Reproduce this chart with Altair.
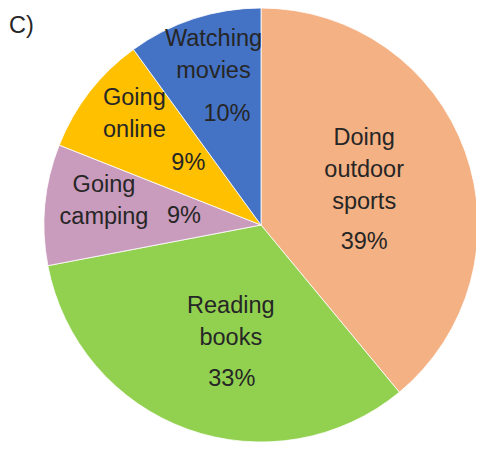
import altair as alt
import pandas as pd

# ---- data ----
categories = ["Doing outdoor sports", "Reading books", "Going camping", "Going online", "Watching movies"]
values = [39, 33, 9, 9, 10]
name_lines = ["Doing\noutdoor\nsports", "Reading\nbooks", "Going\ncamping", "Going\nonline", "Watching\nmovies"]
colors = ["#F4B183", "#92D050", "#C99BBC", "#FFC000", "#4472C4"]

# ---- label layout: anchor radius at slice mid-angle, then (dx, dy) of name's first line and of percentage ----
layout = {
    "Doing outdoor sports": (109, 0.6, -49.9, 0.6, 53.6),
    "Reading books": (121, 10.8, -33.2, 11.8, 39.8),
    "Going camping": (127, -30.6, -28.3, 49.4, 3.2),
    "Going online": (137, -18.4, -43.2, 35.6, 21.8),
    "Watching movies": (147, -2.1, -46.3, 11.4, 28.7),
}

CX, CY, R = 253, 217, 217

df = pd.DataFrame({
    "category": categories,
    "value": values,
    "idx": list(range(len(categories))),
    "name": name_lines,
    "pct": [f"{v}%" for v in values],
})
df["r"] = [layout[c][0] for c in categories]
df["ndx"] = [layout[c][1] for c in categories]
df["ndy"] = [layout[c][2] for c in categories]
df["pdx"] = [layout[c][3] for c in categories]
df["pdy"] = [layout[c][4] for c in categories]

base = alt.Chart(df)

pie = base.mark_arc(outerRadius=R, stroke="white", strokeWidth=0.8).encode(
    theta=alt.Theta("value:Q", stack=True),
    order=alt.Order("idx:Q"),
    color=alt.Color("category:N", scale=alt.Scale(domain=categories, range=colors), legend=None),
    x=alt.value(CX),
    y=alt.value(CY),
)

lab = (
    base.transform_joinaggregate(total="sum(value)")
    .transform_window(cum="sum(value)", sort=[alt.SortField("idx")], frame=[None, 0])
    .transform_calculate(ang="(datum.cum - datum.value/2) / datum.total * 2 * PI")
    .transform_calculate(
        ax=f"{CX} + datum.r * sin(datum.ang)",
        ay=f"{CY} - datum.r * cos(datum.ang)",
    )
    .transform_calculate(
        nx="datum.ax + datum.ndx",
        ny="datum.ay + datum.ndy",
        px="datum.ax + datum.pdx",
        py="datum.ay + datum.pdy",
    )
)

text_style = dict(font="Liberation Sans", fontSize=23.5, color="#262626", align="center", baseline="middle")

names = lab.mark_text(lineBreak="\n", lineHeight=32, **text_style).encode(
    x=alt.X("nx:Q", scale=None, axis=None),
    y=alt.Y("ny:Q", scale=None, axis=None),
    text="name:N",
)
pcts = lab.mark_text(**text_style).encode(
    x=alt.X("px:Q", scale=None, axis=None),
    y=alt.Y("py:Q", scale=None, axis=None),
    text="pct:N",
)

panel = alt.Chart(pd.DataFrame({"t": ["C)"]})).mark_text(
    font="Liberation Sans", fontSize=23.5, color="#262626", align="left", baseline="alphabetic"
).encode(x=alt.value(1), y=alt.value(25), text="t:N")

chart = (
    alt.layer(pie, names, pcts, panel)
    .properties(width=468, height=434, autosize=alt.AutoSizeParams(type="none"), padding=0)
    .configure_view(stroke=None)
)

chart.save("out.html", embed_options={"renderer": "svg", "actions": False})
